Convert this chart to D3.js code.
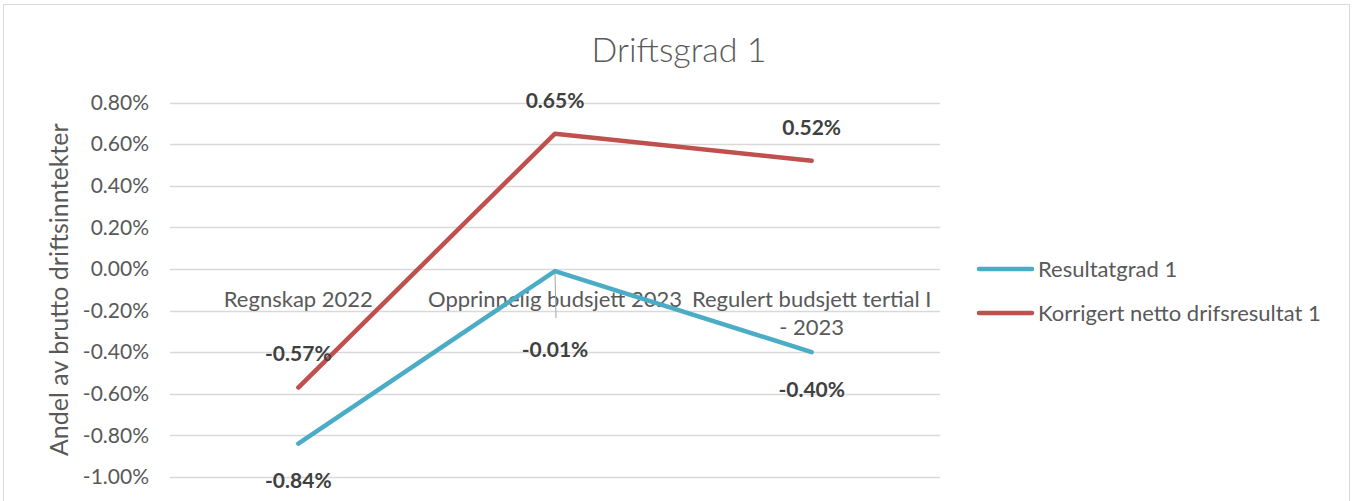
<!DOCTYPE html>
<html lang="nb">
<head>
<meta charset="utf-8">
<title>Driftsgrad 1</title>
<script src="https://d3js.org/d3.v7.min.js"></script>
<style>
html,body {margin:0; padding:0; background:#fff;}
svg {display:block; font-family:Lato, "Open Sans", sans-serif;}
</style>
</head>
<body>
<script>
// data
const categories = ['Regnskap 2022', 'Opprinnelig budsjett 2023', 'Regulert budsjett tertial I - 2023']
const resultatgrad = [-0.84, -0.01, -0.40]
const korrigert = [-0.57, 0.65, 0.52]
const yTicks = [0.8, 0.6, 0.4, 0.2, 0, -0.2, -0.4, -0.6, -0.8, -1.0]
const seriesNames = ['Resultatgrad 1', 'Korrigert netto drifsresultat 1']

const W = 1357, H = 501
const plot = {left: 170, right: 940, top: 102.5, bottom: 477}
const textCol = '#595959', labelCol = '#404040'
const colors = ['#4BACC6', '#C0504D']

const svg = d3.select('body').append('svg').attr('width', W).attr('height', H)

// chart border
svg.append('rect').attr('x', 3.5).attr('y', 4.5).attr('width', 1346).attr('height', 510)
  .attr('fill', 'none').attr('stroke', '#d9d9d9').attr('stroke-width', 1)

svg.append('text').attr('x', 679).attr('y', 62).attr('text-anchor', 'middle')
  .attr('font-size', 34).attr('font-weight', 300).attr('fill', textCol).text('Driftsgrad 1')

const x = d3.scaleBand().domain(categories).range([plot.left, plot.right])
const y = d3.scaleLinear().domain([-1.0, 0.8]).range([plot.bottom, plot.top])
const cx = d => x(d) + x.bandwidth() / 2

// gridlines
svg.append('g').selectAll('line').data(yTicks).join('line')
  .attr('x1', plot.left).attr('x2', plot.right)
  .attr('y1', d => Math.round(y(d)) + 0.5).attr('y2', d => Math.round(y(d)) + 0.5)
  .attr('stroke', '#d9d9d9').attr('stroke-width', 1.5)

// y axis
const yAxis = d3.axisLeft(y).tickValues(yTicks).tickSize(0).tickPadding(0)
  .tickFormat(d => d.toFixed(2) + '%')
const yg = svg.append('g').attr('transform', `translate(${plot.left - 21},0)`).call(yAxis)
yg.select('.domain').remove()
yg.selectAll('text').attr('font-size', 21).attr('fill', textCol).attr('font-family', 'Lato, sans-serif')

svg.append('text').attr('transform', `translate(68,${(plot.top + plot.bottom) / 2}) rotate(-90)`)
  .attr('text-anchor', 'middle').attr('font-size', 25).attr('fill', textCol)
  .text('Andel av brutto driftsinntekter')

// category labels sit just under the zero line
const catLines = [['Regnskap 2022'], ['Opprinnelig budsjett 2023'], ['Regulert budsjett tertial I', '- 2023']]
categories.forEach((c, i) => {
  const t = svg.append('text').attr('x', cx(c)).attr('y', y(0) + 38)
    .attr('text-anchor', 'middle').attr('font-size', 22).attr('fill', textCol)
  catLines[i].forEach((l, j) => {
    t.append('tspan').attr('x', cx(c)).attr('dy', j ? 28 : 0).text(l)
  })
})

// lines
const line = d3.line().x((d, i) => cx(categories[i])).y(d => y(d))
;[resultatgrad, korrigert].forEach((s, k) => {
  svg.append('path').datum(s).attr('d', line).attr('fill', 'none')
    .attr('stroke', colors[k]).attr('stroke-width', 4.5).attr('stroke-linecap', 'round')
    .attr('stroke-linejoin', 'round')
})

// leader line for -0.01%
svg.append('line').attr('x1', cx(categories[1])).attr('y1', y(resultatgrad[1]) + 2)
  .attr('x2', cx(categories[1]) + 1).attr('y2', y(resultatgrad[1]) + 47)
  .attr('stroke', '#a6a6a6').attr('stroke-width', 1)

// data labels
const fmt = d => d.toFixed(2) + '%'
const lblOffBlue = [44, 86, 45]
const lblOffRed = [-27, -26, -26]
resultatgrad.forEach((v, i) => {
  svg.append('text').attr('x', cx(categories[i])).attr('y', y(v) + lblOffBlue[i])
    .attr('text-anchor', 'middle').attr('font-size', 21).attr('font-weight', 700)
    .attr('fill', labelCol).text(fmt(v))
})
korrigert.forEach((v, i) => {
  svg.append('text').attr('x', cx(categories[i])).attr('y', y(v) + lblOffRed[i])
    .attr('text-anchor', 'middle').attr('font-size', 21).attr('font-weight', 700)
    .attr('fill', labelCol).text(fmt(v))
})

// legend
const lg = svg.append('g').attr('transform', 'translate(979,269)')
seriesNames.forEach((n, i) => {
  lg.append('line').attr('x1', 0).attr('x2', 53).attr('y1', i * 44).attr('y2', i * 44)
    .attr('stroke', colors[i]).attr('stroke-width', 4.5).attr('stroke-linecap', 'round')
  lg.append('text').attr('x', 59).attr('y', i * 44 + 8).attr('font-size', 22)
    .attr('fill', textCol).text(n)
})
</script>
</body>
</html>
